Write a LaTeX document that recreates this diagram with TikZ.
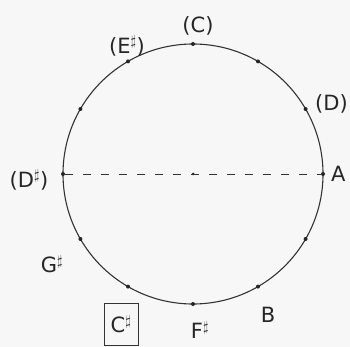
\documentclass[tikz,border=0pt]{standalone}
\usepackage{fontspec}
\setmainfont{DejaVu Sans}
\usetikzlibrary{calc}
\begin{document}
\begin{tikzpicture}[x=1pt,y=-1pt,
  ink/.style={draw=black!80, line width=1.1pt},
  lbl/.style={font=\fontsize{21}{24}\selectfont, text=black!85, inner sep=1pt},
  dotmark/.style={circle, fill=black!85, inner sep=0pt, minimum size=4pt}]
\fill[black!3] (0,0) rectangle (350,347);
\useasboundingbox (0,0) rectangle (350,347);
\coordinate (O) at (193,174);
\draw[ink] (O) circle (130pt);
\foreach \a/\n in {0/p0,30/p1,60/p2,90/p3,120/p4,150/p5,180/p6,210/p7,240/p8,270/p9,300/p10,330/p11}
  \node[dotmark] (\n) at ($(O)+(\a:130pt)$) {};
\node[dotmark, minimum size=3pt] (c) at (O) {};
\draw[ink, line width=0.8pt, dash pattern=on 8pt off 10pt] (p6) -- (p0);
\node[lbl] (lC) at (198,26) {(C)};
\node[lbl] (lE) at (127,46) {(E$^\sharp$)};
\node[lbl, anchor=west] (lD) at (314,104) {(D)};
\node[lbl, anchor=west] (lA) at (330,174) {A};
\node[lbl] (lDs) at (29,180) {(D$^\sharp$)};
\node[lbl] (lG) at (52,264) {G$^\sharp$};
\node[lbl, draw=black!80, line width=0.8pt, minimum width=34pt, minimum height=42pt] (lCs) at (121,324) {C$^\sharp$};
\node[lbl] (lF) at (200,330) {F$^\sharp$};
\node[lbl] (lB) at (268,315) {B};
\end{tikzpicture}
\end{document}
